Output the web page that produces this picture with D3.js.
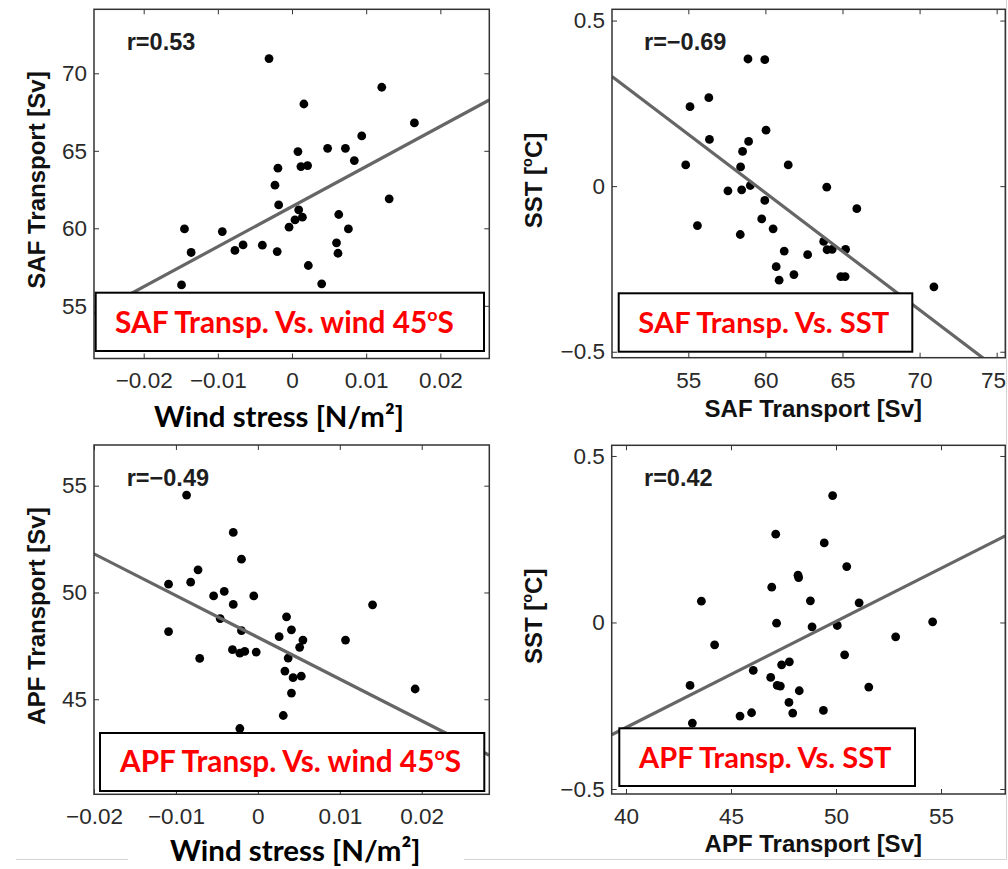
<!DOCTYPE html>
<html>
<head>
<meta charset="utf-8">
<script src="https://cdn.jsdelivr.net/npm/d3@7"></script>
<style>
  html, body { margin: 0; padding: 0; background: #fff; }
  svg { display: block; }
</style>
</head>
<body>
<svg id="fig" width="1008" height="869"></svg>
<script>
// ---------------------------------------------------------------
// Data: yearly anomalies, four scatter panels
// ---------------------------------------------------------------

// (a) SAF transport [Sv] vs. wind stress at 45°S [N/m²]
const windA = [-0.0031, 0.0121, 0.0016, 0.0165, 0.0094, 0.0008, 0.0048, 0.0072, 0.0084, -0.0019,
               0.0012, 0.0021, -0.0023, 0.0131, -0.0018, 0.0009, 0.0014, 0.0004, 0.0063, -0.0004,
               0.0076, -0.0145, -0.0094, 0.0060, -0.0066, -0.0040, -0.0077, -0.0020, 0.0062, -0.0136,
               0.0022, -0.0149, 0.0040];
const safA  = [70.95, 69.10, 68.02, 66.80, 65.96, 64.95, 65.16, 65.16, 64.37, 63.88,
               63.98, 64.05, 62.78, 61.90, 61.51, 61.19, 60.72, 60.54, 60.89, 60.07,
               59.96, 59.96, 59.79, 59.06, 58.93, 58.91, 58.57, 58.50, 58.39, 58.44,
               57.60, 56.35, 56.42];
const fitAX = [-0.0267, 0.0266];
const fitAY = [54.50, 68.28];

// (b) SST [°C] vs. SAF transport [Sv]
const safB = [58.87, 59.96, 56.33, 55.11, 60.04, 56.37, 58.91, 58.52, 54.83, 58.39,
              61.48, 59.02, 57.57, 58.46, 63.98, 59.96, 65.93, 59.76, 55.59, 60.50,
              58.37, 63.78, 64.00, 64.33, 65.20, 61.22, 62.74, 60.70, 61.85, 64.89,
              65.17, 60.89, 70.93];
const sstB = [0.384, 0.382, 0.267, 0.240, 0.169, 0.141, 0.135, 0.105, 0.064, 0.058,
              0.064, 0.002, -0.014, -0.011, -0.003, -0.043, -0.068, -0.099, -0.119, -0.129,
              -0.146, -0.167, -0.192, -0.191, -0.191, -0.196, -0.207, -0.243, -0.267, -0.273,
              -0.273, -0.284, -0.304];
const fitBX = [50.05, 75.56];
const fitBY = [0.331, -0.570];

// (c) APF transport [Sv] vs. wind stress at 45°S [N/m²]
const windC = [-0.0087, -0.0030, -0.0020, -0.0073, -0.0109, -0.0082, -0.0041, -0.0054, -0.0005, -0.0030,
               0.0140, -0.0046, 0.0035, -0.0109, -0.0020, 0.0041, 0.0026, 0.0055, 0.0107, 0.0051,
               -0.0031, -0.0022, -0.0016, -0.0002, -0.0071, 0.0037, 0.0033, 0.0043, 0.0053, 0.0192,
               0.0041, 0.0031, -0.0022];
const apfC  = [54.56, 52.81, 51.56, 51.06, 50.39, 50.48, 50.05, 49.84, 49.84, 49.44,
               49.42, 48.78, 48.86, 48.17, 48.21, 48.25, 47.93, 47.77, 47.77, 47.43,
               47.32, 47.16, 47.24, 47.21, 46.91, 46.93, 46.32, 46.01, 46.08, 45.48,
               45.29, 44.24, 43.63];
const fitCX = [-0.0200, 0.02825];
const fitCY = [51.81, 42.38];

// (d) SST [°C] vs. APF transport [Sv]
const apfD = [49.84, 47.13, 49.44, 50.51, 48.19, 48.22, 46.94, 43.59, 48.78, 51.10,
              47.17, 54.60, 48.86, 50.06, 52.84, 44.22, 50.41, 47.78, 47.41, 46.06,
              46.89, 43.05, 47.20, 47.35, 51.56, 48.25, 47.76, 49.40, 45.98, 47.94,
              45.43, 43.16];
const sstD = [0.381, 0.265, 0.239, 0.168, 0.142, 0.135, 0.106, 0.064, 0.065, 0.059,
              -0.002, 0.002, -0.013, -0.009, -0.043, -0.067, -0.097, -0.118, -0.127, -0.144,
              -0.165, -0.189, -0.189, -0.191, -0.194, -0.205, -0.240, -0.264, -0.271, -0.272,
              -0.281, -0.302];
const fitDX = [39.32, 58.06];
const fitDY = [-0.337, 0.260];

// Axis ranges and tick labels
const windTicks  = [-0.02, -0.01, 0, 0.01, 0.02];
const windLabels = ["\u22120.02", "\u22120.01", "0", "0.01", "0.02"];
const safTicks   = [55, 60, 65, 70];
const safXTicks  = [55, 60, 65, 70, 75];
const apfTicks   = [45, 50, 55];
const apfXTicks  = [40, 45, 50, 55];
const sstTicks   = [-0.5, 0, 0.5];
const sstLabels  = ["\u22120.5", "0", "0.5"];

const domainAX = [-0.0267, 0.0266], domainAY = [51.6, 74.13];
const domainBX = [50.05, 75.56],    domainBY = [-0.518, 0.534];
const domainCX = [-0.0200, 0.02825], domainCY = [40.55, 56.905];
const domainDX = [39.32, 58.06],    domainDY = [-0.515, 0.532];

const corrLabels = ["r=0.53", "r=\u22120.69", "r=\u22120.49", "r=0.42"];

// ---------------------------------------------------------------
// Drawing
// ---------------------------------------------------------------
const W = 1008;
const svg = d3.select("#fig");
const HELV = '"Liberation Sans", Arial, Helvetica, sans-serif';
const CAL  = 'Lato, "Open Sans", sans-serif';

// text made of runs; runs flagged sup are raised and shrunk
function richText(parent, parts, attrs) {
  const t = parent.append("text");
  Object.entries(attrs).forEach(([k, v]) => t.attr(k, v));
  parts.forEach((p, i) => {
    const s = t.append("tspan").text(p.t);
    if (p.sup) {
      s.attr("font-size", "0.6em").attr("dy", "-0.68em");
    } else if (i > 0 && parts[i - 1].sup) {
      s.attr("dy", "0.408em");
    }
  });
  return t;
}

// scale a text's font size so its advance width equals w
function fitWidth(t, w) {
  const fs = parseFloat(t.attr("font-size"));
  const cur = t.node().getComputedTextLength();
  if (cur > 0) t.attr("font-size", fs * w / cur);
}

const panels = [
  { id: "a", l: 94, r: 489.3, t: 9.3, b: 358.5,
    xs: windA, ys: safA, fx: fitAX, fy: fitAY, xd: domainAX, yd: domainAY,
    xt: windTicks, xl: windLabels, yt: safTicks, yl: safTicks.map(String),
    corr: corrLabels[0], cx: 126.7, cy: 50,
    ylab: [{ t: "SAF Transport [Sv]" }], ylx: 45, yly: 180,
    box: { x0: 95.7, x1: 484, y0: 292.7, y1: 351, tx: 284.5, ty: 332.7, w: 339,
           parts: [{ t: "SAF Transp. Vs. wind 45" }, { t: "o", sup: true }, { t: "S" }] } },
  { id: "b", l: 612, r: 1005.3, t: 9.3, b: 357.7,
    xs: safB, ys: sstB, fx: fitBX, fy: fitBY, xd: domainBX, yd: domainBY,
    xt: safXTicks, xl: safXTicks.map(String), yt: sstTicks, yl: sstLabels,
    corr: corrLabels[1], cx: 644, cy: 50,
    ylab: [{ t: "SST [" }, { t: "o", sup: true }, { t: "C]" }], ylx: 541.7, yly: 180.5,
    box: { x0: 618.7, x1: 912.3, y0: 293.3, y1: 351.7, tx: 763.8, ty: 333.3, w: 251,
           parts: [{ t: "SAF Transp. Vs. SST" }] } },
  { id: "c", l: 94, r: 489.3, t: 445, b: 794.3,
    xs: windC, ys: apfC, fx: fitCX, fy: fitCY, xd: domainCX, yd: domainCY,
    xt: windTicks, xl: windLabels, yt: apfTicks, yl: apfTicks.map(String),
    corr: corrLabels[2], cx: 126.7, cy: 486,
    ylab: [{ t: "APF Transport [Sv]" }], ylx: 45, yly: 616,
    box: { x0: 100, x1: 484.3, y0: 733, y1: 791, tx: 290.5, ty: 771.7, w: 341,
           parts: [{ t: "APF Transp. Vs. wind 45" }, { t: "o", sup: true }, { t: "S" }] } },
  { id: "d", l: 611.7, r: 1005.3, t: 445.3, b: 794,
    xs: apfD, ys: sstD, fx: fitDX, fy: fitDY, xd: domainDX, yd: domainDY,
    xt: apfXTicks, xl: apfXTicks.map(String), yt: sstTicks, yl: sstLabels,
    corr: corrLabels[3], cx: 644, cy: 486,
    ylab: [{ t: "SST [" }, { t: "o", sup: true }, { t: "C]" }], ylx: 541.7, yly: 616.3,
    box: { x0: 619.3, x1: 915, y0: 728.3, y1: 786, tx: 765.3, ty: 767.7, w: 252.7,
           parts: [{ t: "APF Transp. Vs. SST" }] } }
];

const defs = svg.append("defs");

panels.forEach(p => {
  const x = d3.scaleLinear().domain(p.xd).range([p.l, p.r]);
  const y = d3.scaleLinear().domain(p.yd).range([p.b, p.t]);
  const g = svg.append("g").attr("class", "panel-" + p.id);

  defs.append("clipPath").attr("id", "clip-" + p.id)
    .append("rect").attr("x", p.l).attr("y", p.t)
    .attr("width", p.r - p.l).attr("height", p.b - p.t);

  const TL = 5;
  const styleAxis = sel => {
    sel.select(".domain").remove();
    sel.selectAll(".tick line").attr("stroke", "#333").attr("stroke-width", 1);
    sel.selectAll(".tick text")
      .attr("font-family", HELV).attr("font-size", 22.5).attr("fill", "#2a2a2a");
  };

  const bottom = g.append("g").attr("transform", `translate(0,${p.b})`)
    .call(d3.axisBottom(x).tickValues(p.xt).tickSize(-TL).tickPadding(14)
      .tickFormat((d, i) => p.xl[i]))
    .call(styleAxis);
  // keep the last label inside the page edge
  bottom.selectAll(".tick").each(function (d) {
    const t = d3.select(this).select("text");
    const half = t.node().getComputedTextLength() / 2;
    const over = x(d) + half - (W - 2.5);
    if (over > 0) t.attr("x", -over);
  });
  g.append("g").attr("transform", `translate(0,${p.t})`)
    .call(d3.axisTop(x).tickValues(p.xt).tickSize(-TL).tickFormat(""))
    .call(styleAxis);
  g.append("g").attr("transform", `translate(${p.l},0)`)
    .call(d3.axisLeft(y).tickValues(p.yt).tickSize(-TL).tickPadding(7)
      .tickFormat((d, i) => p.yl[i]))
    .call(styleAxis);
  g.append("g").attr("transform", `translate(${p.r},0)`)
    .call(d3.axisRight(y).tickValues(p.yt).tickSize(-TL).tickFormat(""))
    .call(styleAxis);

  // scatter points and least-squares line
  const inner = g.append("g").attr("clip-path", `url(#clip-${p.id})`);
  inner.selectAll("circle").data(d3.zip(p.xs, p.ys)).join("circle")
    .attr("cx", d => x(d[0])).attr("cy", d => y(d[1]))
    .attr("r", 4.4).attr("fill", "#000");
  inner.append("path")
    .datum(d3.zip(p.fx, p.fy))
    .attr("d", d3.line().x(d => x(d[0])).y(d => y(d[1])))
    .attr("fill", "none").attr("stroke", "#666").attr("stroke-width", 3.2);

  // axes frame
  g.append("rect").attr("x", p.l).attr("y", p.t)
    .attr("width", p.r - p.l).attr("height", p.b - p.t)
    .attr("fill", "none").attr("stroke", "#333").attr("stroke-width", 1.5);

  // correlation coefficient
  g.append("text").attr("x", p.cx).attr("y", p.cy)
    .attr("font-family", HELV).attr("font-weight", "bold")
    .attr("font-size", 23.5).attr("fill", "#1e1e1e").text(p.corr);

  // y-axis title
  richText(g, p.ylab, {
    transform: `translate(${p.ylx},${p.yly}) rotate(-90)`,
    "text-anchor": "middle", "font-family": HELV, "font-weight": "bold",
    "font-size": 24, fill: "#111"
  });

  // caption box
  const bx = p.box;
  g.append("rect").attr("x", bx.x0).attr("y", bx.y0)
    .attr("width", bx.x1 - bx.x0).attr("height", bx.y1 - bx.y0)
    .attr("fill", "#fff").attr("stroke", "#000").attr("stroke-width", 2);
  const bt = richText(g, bx.parts, {
    x: bx.tx, y: bx.ty, "text-anchor": "middle", "font-family": CAL,
    "font-weight": "bold", "font-size": 29, fill: "#ff0000"
  });
  fitWidth(bt, bx.w);
});

// x-axis titles
const xt1 = svg.append("text").attr("x", 279).attr("y", 426.7)
  .attr("text-anchor", "middle").attr("font-family", CAL).attr("font-weight", "bold")
  .attr("font-size", 28).attr("fill", "#000").text("Wind stress [N/m\u00B2]");
fitWidth(xt1, 250);
const xt3 = svg.append("text").attr("x", 295.3).attr("y", 861)
  .attr("text-anchor", "middle").attr("font-family", CAL).attr("font-weight", "bold")
  .attr("font-size", 28).attr("fill", "#000").text("Wind stress [N/m\u00B2]");
fitWidth(xt3, 250.7);
svg.append("text").attr("x", 813.3).attr("y", 416.7)
  .attr("text-anchor", "middle").attr("font-family", HELV).attr("font-weight", "bold")
  .attr("font-size", 24).attr("fill", "#111").text("SAF Transport [Sv]");
svg.append("text").attr("x", 813.3).attr("y", 851.7)
  .attr("text-anchor", "middle").attr("font-family", HELV).attr("font-weight", "bold")
  .attr("font-size", 24).attr("fill", "#111").text("APF Transport [Sv]");

// thin page edge lines
const edge = svg.append("g").attr("stroke", "#d4d4d4").attr("stroke-width", 1).attr("fill", "none");
edge.append("line").attr("x1", 1006.5).attr("y1", 0).attr("x2", 1006.5).attr("y2", 859.5);
edge.append("line").attr("x1", 16).attr("y1", 859.5).attr("x2", 128).attr("y2", 859.5);
edge.append("line").attr("x1", 464).attr("y1", 859.5).attr("x2", 1006.5).attr("y2", 859.5);
</script>
</body>
</html>
